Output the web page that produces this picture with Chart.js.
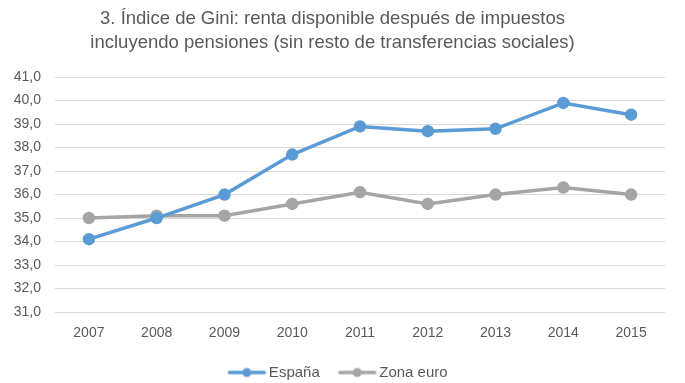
<!DOCTYPE html>
<html><head><meta charset="utf-8">
<script src="https://cdn.jsdelivr.net/npm/chart.js@4/dist/chart.umd.min.js"></script>
<style>html,body{margin:0;padding:0;background:#fff}#wrap{width:685px;height:383px}</style>
</head><body><div id="wrap"><canvas id="c" width="685" height="383"></canvas></div>
<script>
const titleLines = ["3. Índice de Gini: renta disponible después de impuestos", "incluyendo pensiones (sin resto de transferencias sociales)"];
const years = ["2007","2008","2009","2010","2011","2012","2013","2014","2015"];
const espana = [34.1, 35.0, 36.0, 37.7, 38.9, 38.7, 38.8, 39.9, 39.4];
const zonaEuro = [35.0, 35.1, 35.1, 35.6, 36.1, 35.6, 36.0, 36.3, 36.0];
const seriesNames = ["España", "Zona euro"];
const yMin = 31, yMax = 41, yStep = 1;

const FONT = "'Liberation Sans', Arial, sans-serif";
const BLUE = "#5B9BD5", GRAY = "#A5A5A5", TXT = "#595959";

function legendIcon(color){
  const cv = document.createElement('canvas');
  cv.width = 60; cv.height = 12;
  const g = cv.getContext('2d');
  const a = 18;
  g.strokeStyle = color; g.lineWidth = 3.5; g.lineCap = 'round';
  g.beginPath(); g.moveTo(a + 2, 6); g.lineTo(a + 37, 6); g.stroke();
  g.fillStyle = color; g.beginPath(); g.arc(a + 19.5, 6, 4.5, 0, Math.PI * 2); g.fill();
  return cv;
}

new Chart(document.getElementById('c'), {
  type: 'line',
  data: {
    labels: years,
    datasets: [
      {label: seriesNames[0], data: espana, borderColor: BLUE, backgroundColor: BLUE, borderWidth: 3.5, pointRadius: 4.5, pointHoverRadius: 4.5, pointStyle: 'circle', tension: 0},
      {label: seriesNames[1], data: zonaEuro, borderColor: GRAY, backgroundColor: GRAY, borderWidth: 3.5, pointRadius: 4.5, pointHoverRadius: 4.5, pointStyle: 'circle', tension: 0}
    ]
  },
  options: {
    responsive: false,
    animation: false,
    layout: {padding: {left: 0, right: 20, top: 7, bottom: -7}},
    plugins: {
      title: {display: true, text: titleLines, color: TXT, font: {family: FONT, size: 18.5, weight: 'normal', lineHeight: 1.3}, padding: {top: 0, bottom: 22}},
      legend: {
        position: 'bottom',
        labels: {
          color: TXT, font: {family: FONT, size: 15}, usePointStyle: true, pointStyleWidth: 44, boxHeight: 12, padding: 8,
          generateLabels: (chart) => chart.data.datasets.map((ds, i) => ({
            text: ds.label, fillStyle: ds.borderColor, strokeStyle: ds.borderColor, fontColor: TXT,
            pointStyle: legendIcon(ds.borderColor), datasetIndex: i, hidden: false, lineWidth: 0
          }))
        }
      },
      tooltip: {enabled: false}
    },
    scales: {
      x: {
        offset: true,
        grid: {display: false, drawTicks: false},
        border: {display: false},
        ticks: {color: TXT, font: {family: FONT, size: 14}, padding: 13},
        afterFit: (s) => { s.height = 45; }
      },
      y: {
        min: yMin, max: yMax,
        grid: {color: '#D9D9D9', lineWidth: 1, drawTicks: false},
        border: {display: false},
        ticks: {stepSize: yStep, color: TXT, font: {family: FONT, size: 14}, padding: 14,
          callback: v => v.toFixed(1).replace('.', ',')},
        afterFit: (s) => { s.width = 55; }
      }
    }
  }
});
</script>
</body></html>
